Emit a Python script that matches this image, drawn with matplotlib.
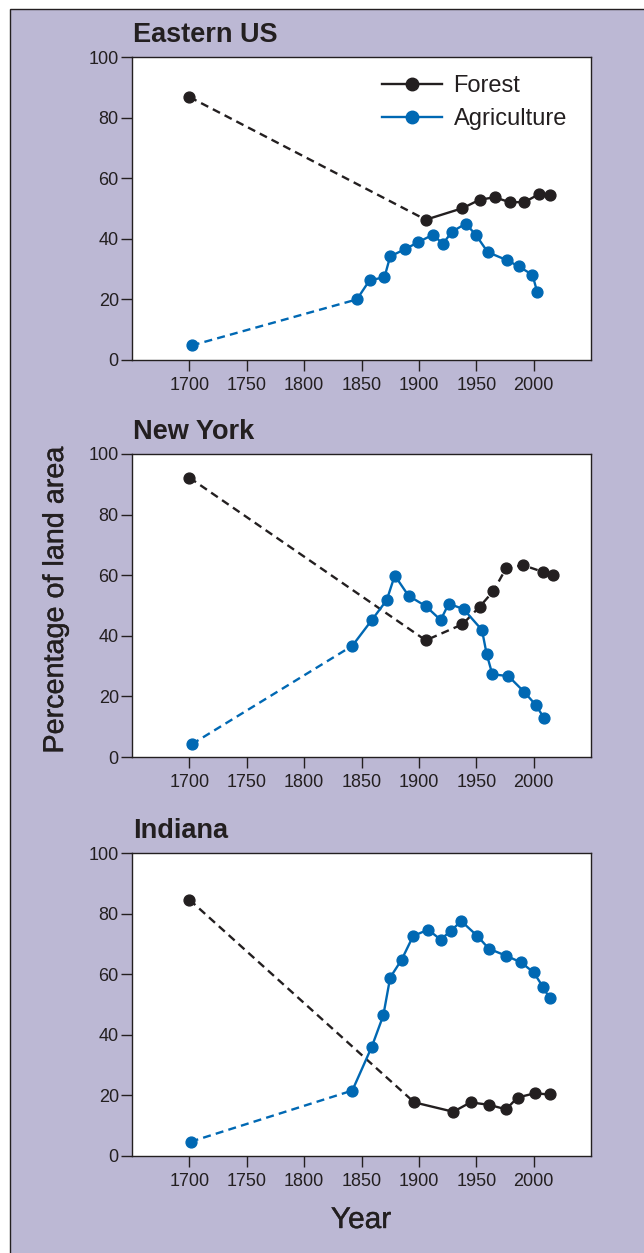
import matplotlib
matplotlib.use("Agg")
import matplotlib.pyplot as plt
from matplotlib.patches import Rectangle
import matplotlib.patheffects as pe

plt.rcParams['font.family'] = ['Liberation Sans', 'DejaVu Sans']

BLACK = "#231f20"
BLUE = "#0068b3"
PURPLE = "#bcb8d4"

# years / percentage of land area
# Eastern US
east_forest_year = [1700, 1906, 1938, 1953, 1966, 1979, 1992, 2005, 2014]
east_forest_val = [86.8, 46.3, 50.1, 52.9, 53.7, 52.1, 52.1, 54.8, 54.3]
east_agri_year = [1702, 1846, 1857, 1870, 1875, 1888, 1899, 1912, 1921, 1929,
                  1941, 1950, 1960, 1977, 1987, 1999, 2003]
east_agri_val = [4.8, 20.0, 26.3, 27.3, 34.2, 36.6, 38.8, 41.3, 38.4, 42.4,
                 45.0, 41.1, 35.6, 32.9, 30.9, 28.1, 22.6]

# New York
ny_forest_year = [1700, 1906, 1938, 1953, 1965, 1976, 1991, 2008, 2017]
ny_forest_val = [92.2, 38.5, 43.8, 49.6, 54.8, 62.3, 63.3, 61.1, 60.1]
ny_agri_year = [1702, 1842, 1859, 1872, 1879, 1891, 1906, 1919, 1926, 1939,
                1955, 1959, 1964, 1978, 1992, 2002, 2009]
ny_agri_val = [4.2, 36.7, 45.2, 51.8, 59.9, 53.2, 49.8, 45.2, 50.6, 48.8,
               41.9, 34.1, 27.3, 26.7, 21.4, 17.1, 12.9]

# Indiana
ind_forest_year = [1700, 1896, 1930, 1945, 1961, 1976, 1986, 2001, 2014]
ind_forest_val = [84.6, 17.7, 14.6, 17.7, 16.9, 15.4, 19.3, 20.7, 20.3]
ind_agri_year = [1701, 1842, 1859, 1869, 1875, 1885, 1895, 1908, 1919, 1928,
                 1937, 1951, 1961, 1976, 1989, 2000, 2008, 2014]
ind_agri_val = [4.7, 21.6, 36.1, 46.4, 58.9, 64.8, 72.6, 74.7, 71.4, 74.4,
                77.5, 72.6, 68.4, 66.1, 63.9, 60.6, 55.9, 52.0]

# number of leading points joined by a dashed line
panels = [
    ("Eastern US", east_forest_year, east_forest_val, 2, east_agri_year, east_agri_val, 2),
    ("New York", ny_forest_year, ny_forest_val, len(ny_forest_year), ny_agri_year, ny_agri_val, 2),
    ("Indiana", ind_forest_year, ind_forest_val, 2, ind_agri_year, ind_agri_val, 2),
]

xticks = [1700, 1750, 1800, 1850, 1900, 1950, 2000]
yticks = [0, 20, 40, 60, 80, 100]

fig = plt.figure(figsize=(6.44, 12.53), dpi=100)
fig.patch.set_facecolor("white")
fig.patches.append(Rectangle((10 / 644, -0.05), 1.1, 1 - 9 / 1253 + 0.05,
                             transform=fig.transFigure, facecolor=PURPLE,
                             edgecolor=BLACK, lw=1.0, zorder=-10))

W, H = 644, 1253
ax_left, ax_right = 132, 591
tops = [57, 454, 853]
ax_h = 303


def draw_series(ax, years, vals, ndash, color, label):
    kw = dict(color=color, lw=1.7)
    ax.plot(years[:ndash], vals[:ndash], linestyle=(0, (3.4, 2.2)), **kw)
    if ndash < len(years):
        ax.plot(years[ndash - 1:], vals[ndash - 1:], linestyle="-", **kw)
    ax.plot(years, vals, linestyle="none", marker="o", ms=7.8, color=color)
    # legend proxy
    ax.plot([], [], color=color, lw=1.7, marker="o", ms=9, label=label)


axes = []
for (title, fy, fv, fd, ay, av, ad), top in zip(panels, tops):
    ax = fig.add_axes([ax_left / W, 1 - (top + ax_h) / H,
                       (ax_right - ax_left) / W, ax_h / H])
    ax.set_facecolor("white")
    draw_series(ax, fy, fv, fd, BLACK, "Forest")
    draw_series(ax, ay, av, ad, BLUE, "Agriculture")
    ax.set_xlim(1650, 2050)
    ax.set_ylim(0, 100)
    ax.set_xticks(xticks)
    ax.set_yticks(yticks)
    ax.tick_params(direction="out", length=8, width=1.0, color=BLACK,
                   labelcolor=BLACK, labelsize=13)
    ax.tick_params(axis="x", pad=4)
    ax.tick_params(axis="y", pad=1.5)
    for s in ax.spines.values():
        s.set_color(BLACK)
        s.set_linewidth(1.0)
    ax.annotate(title, xy=(0, 1), xycoords="axes fraction", xytext=(0.5, 15.5),
                textcoords="offset points", ha="left", va="center",
                fontsize=19.5, fontweight="bold", color=BLACK)
    axes.append(ax)

leg = axes[0].legend(loc="upper left", bbox_to_anchor=(0.545, 0.94),
                     frameon=False, fontsize=17, handlelength=2.55,
                     handletextpad=0.47, labelspacing=0.45, borderpad=0,
                     borderaxespad=0)
for t in leg.get_texts():
    t.set_color(BLACK)

heavy = [pe.withStroke(linewidth=0.3, foreground=BLACK)]
fig.text(55 / W, 1 - 600 / H, "Percentage of land area", rotation=90,
         ha="center", va="center", fontsize=20.7, color=BLACK,
         path_effects=heavy)
fig.text(361 / W, 1 - 1220 / H, "Year", ha="center", va="center",
         fontsize=21.5, color=BLACK, path_effects=heavy)

fig.savefig("out.png", dpi=100, facecolor=fig.get_facecolor())
